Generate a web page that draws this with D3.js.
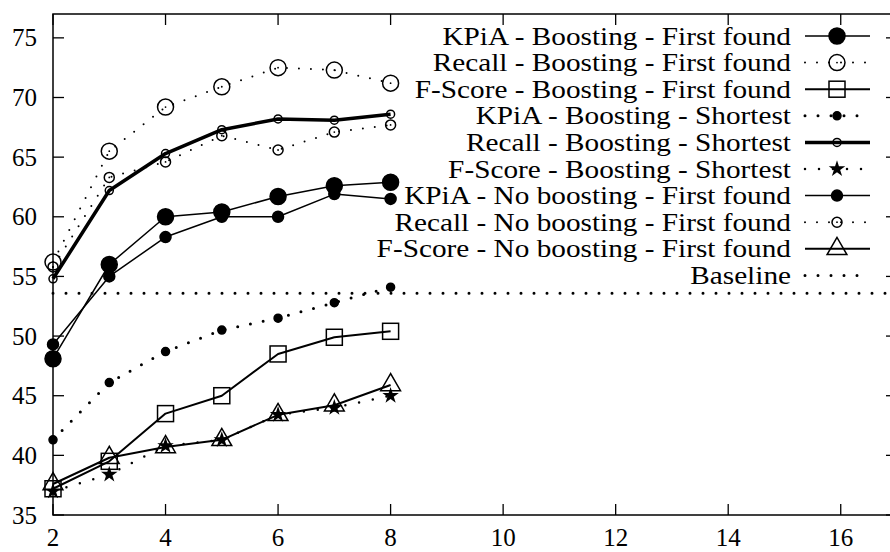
<!DOCTYPE html>
<html>
<head>
<meta charset="utf-8">
<script src="https://cdn.jsdelivr.net/npm/d3@7"></script>
<style>
  html, body { margin: 0; padding: 0; background: #fff; }
  svg { display: block; }
</style>
</head>
<body>
<svg id="chart" width="890" height="552"></svg>
<script>
// Number of steps on the x axis
const steps = [2, 3, 4, 5, 6, 7, 8];

// Series values (percent)
const kpiaBoostFirst   = [48.1, 56.0, 60.0, 60.4, 61.7, 62.6, 62.9];
const recallBoostFirst = [56.2, 65.5, 69.2, 70.9, 72.5, 72.3, 71.2];
const fscoreBoostFirst = [37.2, 39.5, 43.5, 45.0, 48.5, 49.9, 50.4];
const kpiaBoostShort   = [41.3, 46.1, 48.7, 50.5, 51.5, 52.8, 54.1];
const recallBoostShort = [54.8, 62.2, 65.3, 67.3, 68.2, 68.1, 68.6];
const fscoreBoostShort = [37.0, 38.4, 40.8, 41.3, 43.4, 44.0, 45.0];
const kpiaNoBoost      = [49.3, 55.0, 58.3, 60.0, 60.0, 61.9, 61.5];
const recallNoBoost    = [55.8, 63.3, 64.6, 66.8, 65.6, 67.1, 67.7];
const fscoreNoBoost    = [37.6, 39.8, 40.7, 41.3, 43.4, 44.2, 45.9];
const baselineValue = 53.6;

// Tick labels
const xTicks = [2, 4, 6, 8, 10, 12, 14, 16];
const yTicks = [35, 40, 45, 50, 55, 60, 65, 70, 75];

const seriesNames = [
  "KPiA - Boosting - First found",
  "Recall - Boosting - First found",
  "F-Score - Boosting - First found",
  "KPiA - Boosting - Shortest",
  "Recall - Boosting - Shortest",
  "F-Score - Boosting - Shortest",
  "KPiA - No boosting - First found",
  "Recall - No boosting - First found",
  "F-Score - No boosting - First found",
  "Baseline"
];

// Drawing styles for each series
const styles = [
  { values: kpiaBoostFirst,   line: "solid", width: 1.5, marker: "circle", r: 8,  fill: true },
  { values: recallBoostFirst, line: "dot",   width: 2,   gap: 12, marker: "circle", r: 8, fill: false, centerDot: true },
  { values: fscoreBoostFirst, line: "solid", width: 2,   marker: "square", r: 8 },
  { values: kpiaBoostShort,   line: "dot",   width: 3,   gap: 13, marker: "circle", r: 4, fill: true },
  { values: recallBoostShort, line: "solid", width: 3.5, marker: "circle", r: 4, fill: false, centerDot: false },
  { values: fscoreBoostShort, line: "dot",   width: 2.5, gap: 14, marker: "star", r: 7 },
  { values: kpiaNoBoost,      line: "solid", width: 1.5, marker: "circle", r: 5.5, fill: true },
  { values: recallNoBoost,    line: "dot",   width: 2,   gap: 12, marker: "circle", r: 5, fill: false, centerDot: true },
  { values: fscoreNoBoost,    line: "solid", width: 2,   marker: "triangle", r: 9 },
];

const fontFamily = "'Liberation Serif', 'DejaVu Serif', serif";
// Key labels are set wide, like Computer Modern
const keyStretch = 1.17;

const svg = d3.select("#chart");
const plotLeft = 53, plotBottom = 515, plotTop = 14, plotRight = 897;

const x = d3.scaleLinear().domain([2, 17]).range([plotLeft, plotRight]);
const y = d3.scaleLinear().domain([35, 77]).range([plotBottom, plotTop]);

// Frame with inward ticks on all four sides
const frame = svg.append("g");
frame.append("rect")
  .attr("x", plotLeft).attr("y", plotTop)
  .attr("width", plotRight - plotLeft).attr("height", plotBottom - plotTop)
  .attr("fill", "none").attr("stroke", "#000").attr("stroke-width", 1.5);

const tickLen = 11;
frame.selectAll(".xt").data(xTicks).join("g").each(function(d) {
  const g = d3.select(this);
  g.append("line").attr("x1", x(d)).attr("x2", x(d)).attr("y1", plotBottom).attr("y2", plotBottom - tickLen)
    .attr("stroke", "#000").attr("stroke-width", 1.3);
  g.append("line").attr("x1", x(d)).attr("x2", x(d)).attr("y1", plotTop).attr("y2", plotTop + tickLen)
    .attr("stroke", "#000").attr("stroke-width", 1.3);
  g.append("text").attr("x", x(d)).attr("y", 546).attr("text-anchor", "middle")
    .attr("font-family", fontFamily).attr("font-size", 25).attr("fill", "#000").text(d);
});
frame.selectAll(".yt").data(yTicks).join("g").each(function(d) {
  const g = d3.select(this);
  g.append("line").attr("x1", plotLeft).attr("x2", plotLeft + tickLen).attr("y1", y(d)).attr("y2", y(d))
    .attr("stroke", "#000").attr("stroke-width", 1.3);
  g.append("line").attr("x1", plotRight).attr("x2", plotRight - tickLen).attr("y1", y(d)).attr("y2", y(d))
    .attr("stroke", "#000").attr("stroke-width", 1.3);
  g.append("text").attr("x", 37).attr("y", y(d)).attr("dy", "0.34em").attr("text-anchor", "end")
    .attr("font-family", fontFamily).attr("font-size", 25).attr("fill", "#000").text(d);
});

function strokeStyle(sel, s) {
  sel.attr("fill", "none").attr("stroke", "#000").attr("stroke-width", s.width);
  if (s.line === "dot") {
    sel.attr("stroke-dasharray", `0 ${s.gap}`).attr("stroke-linecap", "round");
  } else {
    sel.attr("stroke-linejoin", "round");
  }
}

function drawMarker(g, s, cx, cy) {
  if (s.marker === "circle") {
    g.append("circle").attr("cx", cx).attr("cy", cy).attr("r", s.r)
      .attr("fill", s.fill ? "#000" : "none").attr("stroke", "#000").attr("stroke-width", 1.5);
    if (s.centerDot) {
      g.append("circle").attr("cx", cx).attr("cy", cy).attr("r", 0.9).attr("fill", "#000");
    }
  } else if (s.marker === "square") {
    g.append("rect").attr("x", cx - s.r).attr("y", cy - s.r).attr("width", 2 * s.r).attr("height", 2 * s.r)
      .attr("fill", "none").attr("stroke", "#000").attr("stroke-width", 1.5);
  } else if (s.marker === "triangle") {
    const h = 1.9 * s.r, w = 2.2 * s.r;
    const pts = [[cx, cy - h * 2 / 3], [cx - w / 2, cy + h / 3], [cx + w / 2, cy + h / 3]];
    g.append("path").attr("d", "M" + pts.join("L") + "Z")
      .attr("fill", "none").attr("stroke", "#000").attr("stroke-width", 1.5);
  } else if (s.marker === "star") {
    g.append("path").attr("transform", `translate(${cx},${cy})`)
      .attr("d", d3.symbol(d3.symbolStar, Math.PI * s.r * s.r * 0.55)())
      .attr("fill", "#000");
  }
}

const line = d3.line().x(d => x(d[0])).y(d => y(d[1]));

// Baseline reference line
const baseStyle = { line: "dot", width: 3, gap: 13 };
svg.append("line")
  .attr("x1", plotLeft).attr("x2", plotRight).attr("y1", y(baselineValue)).attr("y2", y(baselineValue))
  .call(strokeStyle, baseStyle);

// Data series
const plot = svg.append("g");
styles.forEach(s => {
  const pts = steps.map((st, i) => [st, s.values[i]]);
  plot.append("path").attr("d", line(pts)).call(strokeStyle, s);
  const mg = plot.append("g");
  pts.forEach(p => drawMarker(mg, s, x(p[0]), y(p[1])));
});

// Key
const key = svg.append("g");
const rowY0 = 36, rowStep = 26.6;
const textRight = 791, sampleX1 = 805, sampleX2 = 870, markerX = 837;
seriesNames.forEach((name, i) => {
  const ry = rowY0 + i * rowStep;
  const t = key.append("text").attr("x", textRight).attr("y", ry).attr("dy", "0.34em")
    .attr("text-anchor", "end").attr("font-family", fontFamily).attr("font-size", 25)
    .attr("fill", "#000").text(name);
  const natural = t.node().getComputedTextLength();
  t.attr("textLength", natural * keyStretch).attr("lengthAdjust", "spacingAndGlyphs");
  const s = i < styles.length ? styles[i] : baseStyle;
  key.append("line").attr("x1", sampleX1).attr("x2", sampleX2).attr("y1", ry).attr("y2", ry)
    .call(strokeStyle, s);
  if (i < styles.length) drawMarker(key.append("g"), s, markerX, ry);
});
</script>
</body>
</html>
